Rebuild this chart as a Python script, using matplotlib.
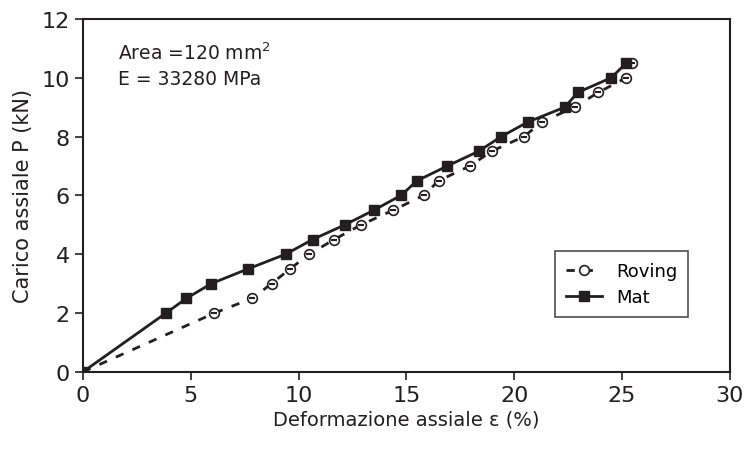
import numpy as np
import matplotlib
matplotlib.use('Agg')
from matplotlib import pyplot as plt

# data
mat_x = [0, 3.85, 4.8, 5.95, 7.65, 9.4, 10.65, 12.15, 13.5, 14.75, 15.5, 16.9,
         18.35, 19.4, 20.65, 22.35, 22.95, 24.5, 25.2]
mat_y = [0, 2, 2.5, 3, 3.5, 4, 4.5, 5, 5.5, 6, 6.5, 7, 7.5, 8, 8.5, 9, 9.5, 10, 10.5]
rov_x = [0, 6.1, 7.85, 8.75, 9.6, 10.5, 11.65, 12.9, 14.4, 15.8, 16.5, 17.95,
         18.95, 20.45, 21.3, 22.8, 23.9, 25.2, 25.45]
rov_y = [0, 2, 2.5, 3, 3.5, 4, 4.5, 5, 5.5, 6, 6.5, 7, 7.5, 8, 8.5, 9, 9.5, 10, 10.5]

plt.rcParams['font.family'] = ['DejaVu Sans']
fig = plt.figure(figsize=(7.47, 4.52), dpi=100)
ax = fig.add_axes([0.111, 0.175, 0.866, 0.781])

col = '#231f20'
ax.plot(rov_x, rov_y, linestyle=(0, (3, 3.5)), color=col, lw=2, marker='o', ms=7,
        mfc='white', mec=col, mew=1.2, label='Roving', zorder=2)
ax.plot(rov_x[1:], rov_y[1:], linestyle='none', marker='_', ms=4.5, mew=1.5, color=col, zorder=3)
ax.plot(mat_x, mat_y, '-', color=col, lw=2, marker='s', ms=7, label='Mat', zorder=4)

ax.set_xlim(0, 30)
ax.set_ylim(0, 12)
ax.set_xticks(np.arange(0, 31, 5))
ax.set_yticks(np.arange(0, 13, 2))
ax.tick_params(labelsize=16, direction='out', length=6, width=1.2, colors=col, top=False, right=False)
for s in ax.spines.values():
    s.set_linewidth(1.5)
    s.set_color(col)

ax.set_xlabel('Deformazione assiale ε (%)', fontsize=14, color=col, labelpad=3)
ax.set_ylabel('Carico assiale P (kN)', fontsize=15, color=col, labelpad=6)

ax.text(0.054, 0.885, 'Area =120 mm$^2$', transform=ax.transAxes, fontsize=13.5, color=col)
ax.text(0.054, 0.815, 'E = 33280 MPa', transform=ax.transAxes, fontsize=13.5, color=col)

leg = ax.legend(loc='lower right', bbox_to_anchor=(0.95, 0.13), fontsize=13, frameon=True,
                fancybox=False, edgecolor=col, handlelength=2.0, borderpad=0.6,
                labelspacing=0.45)
leg.get_frame().set_linewidth(1.2)

fig.savefig('out.png', dpi=100)
